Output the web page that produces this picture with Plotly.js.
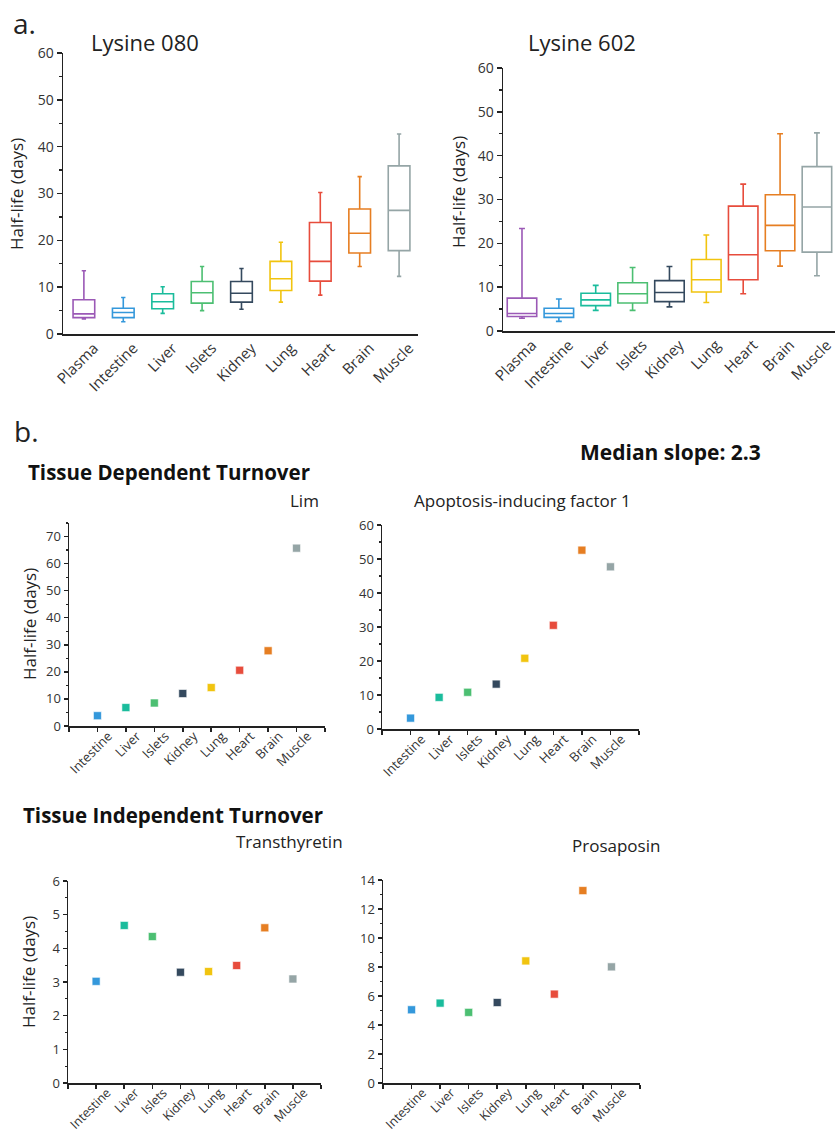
<!DOCTYPE html>
<html>
<head>
<meta charset="utf-8">
<script src="https://cdn.plot.ly/plotly-3.0.1.min.js"></script>
<style>html,body{margin:0;padding:0;background:#fff;} #chart{width:835px;height:1132px;}</style>
</head>
<body>
<div id="chart"></div>
<script>
// ---------- DATA ----------
const tissues = ['Plasma','Intestine','Liver','Islets','Kidney','Lung','Heart','Brain','Muscle'];
const tissueColors = ['#9b59b6','#3498db','#1abc9c','#4cbf72','#34495e','#f1c40f','#e74c3c','#e67e22','#95a5a6'];

// Lysine 080 box statistics (days)
const lys080Low    = [3.2, 2.6, 4.4, 5.0, 5.3, 6.8, 8.3, 14.4, 12.3];
const lys080Q1     = [3.5, 3.5, 5.4, 6.6, 6.8, 9.3, 11.3, 17.3, 17.8];
const lys080Median = [4.3, 4.6, 6.9, 8.8, 8.7, 11.8, 15.5, 21.5, 26.4];
const lys080Q3     = [7.3, 5.5, 8.6, 11.2, 11.2, 15.5, 23.8, 26.7, 35.9];
const lys080High   = [13.5, 7.8, 10.1, 14.4, 14.0, 19.6, 30.2, 33.6, 42.7];

// Lysine 602 box statistics (days)
const lys602Low    = [2.9, 2.2, 4.7, 4.7, 5.5, 6.5, 8.5, 14.8, 12.6];
const lys602Q1     = [3.3, 3.1, 5.8, 6.4, 6.7, 8.9, 11.7, 18.3, 18.0];
const lys602Median = [4.0, 4.0, 7.1, 8.5, 8.8, 11.7, 17.4, 24.1, 28.3];
const lys602Q3     = [7.5, 5.2, 8.6, 11.0, 11.5, 16.3, 28.5, 31.1, 37.5];
const lys602High   = [23.4, 7.3, 10.4, 14.5, 14.7, 21.9, 33.5, 45.0, 45.2];

// Panel b: per-protein half-lives (days)
const bTissues = ['Intestine','Liver','Islets','Kidney','Lung','Heart','Brain','Muscle'];
const limValues  = [3.8, 6.8, 8.5, 12.0, 14.2, 20.6, 27.8, 65.7];
const aifValues  = [3.2, 9.3, 10.8, 13.2, 20.8, 30.5, 52.6, 47.7];
const ttrValues  = [3.02, 4.68, 4.35, 3.29, 3.31, 3.49, 4.61, 3.09];
const psapValues = [5.05, 5.51, 4.87, 5.55, 8.42, 6.13, 13.27, 8.01];

// ---------- LAYOUT HELPERS ----------
const W = 835, H = 1132;
const FONT = '"Open Sans", "Noto Sans", sans-serif';
const INK = '#222';
const px = v => v / W;
const py = v => 1 - v / H;
const dx = (a, b) => [px(a), px(b)];
const dy = (top, bottom) => [py(bottom), py(top)];

const bColors = bTissues.map(t => tissueColors[tissues.indexOf(t)]);
const bIndex = bTissues.map((t, i) => i);

const traces = [];
function addBoxes(xa, ya, low, q1, med, q3, high, w) {
  tissues.forEach((t, i) => {
    traces.push({
      type: 'box', xaxis: xa, yaxis: ya,
      x: [t], lowerfence: [low[i]], q1: [q1[i]], median: [med[i]], q3: [q3[i]], upperfence: [high[i]],
      boxpoints: false, width: w, whiskerwidth: 0.2,
      line: { color: tissueColors[i], width: 1.6 },
      fillcolor: 'rgba(0,0,0,0)', showlegend: false, hoverinfo: 'skip'
    });
  });
}
addBoxes('x', 'y', lys080Low, lys080Q1, lys080Median, lys080Q3, lys080High, 0.55);
addBoxes('x2', 'y2', lys602Low, lys602Q1, lys602Median, lys602Q3, lys602High, 0.8);

function addScatter(xa, ya, vals) {
  traces.push({
    type: 'scatter', mode: 'markers', xaxis: xa, yaxis: ya,
    x: bIndex, y: vals,
    marker: { symbol: 'square', size: 8, color: bColors, line: { color: '#ffffff', width: 0.6 } },
    showlegend: false, hoverinfo: 'skip', cliponaxis: false
  });
}
addScatter('x3', 'y3', limValues);
addScatter('x4', 'y4', aifValues);
addScatter('x5', 'y5', ttrValues);
addScatter('x6', 'y6', psapValues);

function yAx(anchor, dom, range, dtick, minor, fsize, tl) {
  return {
    anchor: anchor, domain: dom, range: range, dtick: dtick, tick0: 0,
    showline: true, linecolor: INK, linewidth: 1.5, mirror: false,
    ticks: 'outside', ticklen: tl, tickwidth: 1.5, tickcolor: INK,
    minor: { dtick: minor, tick0: 0, ticks: 'outside', ticklen: Math.max(2, tl - 2), tickwidth: 1.2, tickcolor: INK, showgrid: false },
    showgrid: false, zeroline: false, fixedrange: true,
    tickfont: { family: FONT, size: fsize, color: '#333' }
  };
}
function xAxBox(anchor, dom, range) {
  return {
    anchor: anchor, domain: dom, type: 'category', categoryorder: 'array', categoryarray: tissues,
    range: range, showline: true, linecolor: INK, linewidth: 1.5, ticks: '',
    tickangle: -45, ticklabelshift: 10, ticklabelstandoff: -2,
    showgrid: false, zeroline: false, fixedrange: true,
    tickfont: { family: FONT, size: 15, color: '#333' }
  };
}
function xAxB(anchor, dom, fsize) {
  return {
    anchor: anchor, domain: dom, type: 'linear', range: [-1, 8],
    tickmode: 'array', tickvals: [-1].concat(bIndex, [8]), ticktext: [''].concat(bTissues, ['']),
    showline: true, linecolor: INK, linewidth: 1.5, ticks: 'outside', ticklen: 4, tickwidth: 1.5, tickcolor: INK,
    tickangle: -45, ticklabelshift: 11, ticklabelstandoff: -8,
    showgrid: false, zeroline: false, fixedrange: true,
    tickfont: { family: FONT, size: fsize, color: '#333' }
  };
}

function ann(text, x, y, size, opts) {
  return Object.assign({
    xref: 'paper', yref: 'paper', x: px(x), y: py(y), text: text, showarrow: false,
    xanchor: 'center', yanchor: 'middle', font: { family: FONT, size: size, color: INK }
  }, opts || {});
}

const layout = {
  width: W, height: H, margin: { l: 0, r: 0, t: 0, b: 0 },
  paper_bgcolor: '#fff', plot_bgcolor: 'rgba(0,0,0,0)', showlegend: false,
  font: { family: FONT, color: INK },
  xaxis: xAxBox('y', dx(63, 418), [-0.53, 8.48]),
  yaxis: yAx('x', dy(53, 334), [0, 60], 10, 5, 14, 5),
  xaxis2: xAxBox('y2', dx(503, 835), [-0.515, 8.49]),
  yaxis2: yAx('x2', dy(68, 331), [0, 60], 10, 5, 14, 5),
  xaxis3: xAxB('y3', dx(69, 325), 13),
  yaxis3: yAx('x3', dy(523, 726), [0, 75], 10, 5, 13, 4),
  xaxis4: xAxB('y4', dx(382, 639), 13),
  yaxis4: yAx('x4', dy(525, 729), [0, 60], 10, 5, 13, 4),
  xaxis5: xAxB('y5', dx(68, 321), 12.5),
  yaxis5: yAx('x5', dy(881, 1083), [0, 6], 1, 0.5, 13, 4),
  xaxis6: xAxB('y6', dx(383, 640), 12.5),
  yaxis6: yAx('x6', dy(880, 1083), [0, 14], 2, 1, 13, 4),
  annotations: [
    ann('a.', 11, 23, 28, { xanchor: 'left' }),
    ann('Lysine 080', 145, 42, 22),
    ann('Lysine 602', 582, 42, 22),
    ann('Half-life (days)', 16, 194, 17, { textangle: -90 }),
    ann('Half-life (days)', 459, 192, 17, { textangle: -90 }),
    ann('b.', 12, 431, 28, { xanchor: 'left' }),
    ann('<b>Median slope: 2.3</b>', 578, 452, 21, { xanchor: 'left', font: { family: FONT, size: 21, color: '#111' } }),
    ann('<b>Tissue Dependent Turnover</b>', 26, 472, 20.5, { xanchor: 'left', font: { family: FONT, size: 20.5, color: '#111' } }),
    ann('Lim', 321, 500, 17, { xanchor: 'right' }),
    ann('Apoptosis-inducing factor 1', 633, 500, 17, { xanchor: 'right' }),
    ann('Half-life (days)', 29, 624, 17, { textangle: -90 }),
    ann('<b>Tissue Independent Turnover</b>', 21, 815, 20.5, { xanchor: 'left', font: { family: FONT, size: 20.5, color: '#111' } }),
    ann('Transthyretin', 345, 841, 17, { xanchor: 'right' }),
    ann('Prosaposin', 662, 845, 17, { xanchor: 'right' }),
    ann('Half-life (days)', 28, 972, 17, { textangle: -90 })
  ]
};

Plotly.newPlot('chart', traces, layout, { staticPlot: true, displayModeBar: false });
</script>
</body>
</html>
